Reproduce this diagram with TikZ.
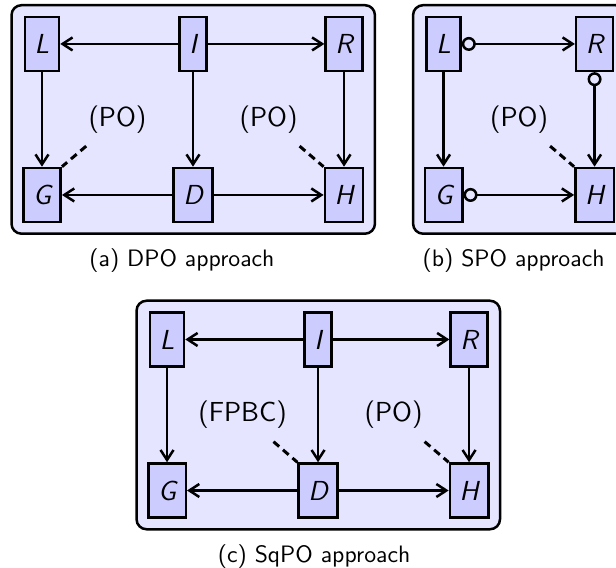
\documentclass[tikz,border=0pt]{standalone}
\usetikzlibrary{arrows.meta,fit,backgrounds}

\tikzset{
  obj/.style={draw, line width=1pt, fill=blue!20, minimum height=21.6pt, inner xsep=3.9pt,
    font=\sffamily\itshape\fontsize{11}{13}\selectfont},
  panel/.style={draw, line width=1pt, fill=blue!10, rounded corners=4pt, inner sep=4.2pt},
  sqlabel/.style={font=\sffamily\fontsize{11}{13}\selectfont},
  caption/.style={font=\sffamily\fontsize{9.5}{11}\selectfont},
  mor/.style={line width=1pt, -{Straight Barb[length=4pt,width=5.2pt]}},
  pmor/.style={line width=1pt, {Circle[open,length=5.6pt]}-{Straight Barb[length=4pt,width=5.2pt]}},
  cell/.style={line width=1.2pt, dash pattern=on 3pt off 2pt, shorten <=2.5pt},
}

\begin{document}
\begin{tikzpicture}[x=2.123cm, y=2.123cm]
\useasboundingbox (-0.278,0.291) rectangle (3.801,-3.464);

% double pushout
\begin{scope}[name prefix=a-]
\node[obj] (L) at (0,0) {L};
\node[obj] (I) at (1,0) {I};
\node[obj] (R) at (2,0) {R};
\node[obj] (G) at (0,-1) {G};
\node[obj] (D) at (1,-1) {D};
\node[obj] (H) at (2,-1) {H};

\node[sqlabel] (po1) at (0.5,-0.5) {(PO)};
\node[sqlabel] (po2) at (1.5,-0.5) {(PO)};

\draw[mor] (I) -- (L);
\draw[mor] (I) -- (R);
\draw[mor] (L) -- (G);
\draw[mor] (I) -- (D);
\draw[mor] (R) -- (H);
\draw[mor] (D) -- (G);
\draw[mor] (D) -- (H);

\draw[cell] (po1) -- (G.north east);
\draw[cell] (po2) -- (H.north west);

\begin{scope}[on background layer]
\node[panel, fit=(L)(R)(G)(H)] (box) {};
\end{scope}
\node[caption] (cap) at (0.927,-1.437) {(a) DPO approach};
\end{scope}

% single pushout
\begin{scope}[shift={(2.659,0)}, name prefix=b-]
\node[obj] (L) at (0,0) {L};
\node[obj] (R) at (1,0) {R};
\node[obj] (G) at (0,-1) {G};
\node[obj] (H) at (1,-1) {H};

\node[sqlabel] (po) at (0.5,-0.5) {(PO)};

\draw[pmor] (L) -- (R);
\draw[mor] (L) -- (G);
\draw[pmor] (R) -- (H);
\draw[pmor] (G) -- (H);

\draw[cell] (po) -- (H.north west);

\begin{scope}[on background layer]
\node[panel, fit=(L)(R)(G)(H)] (box) {};
\end{scope}
\node[caption] (cap) at (0.464,-1.437) {(b) SPO approach};
\end{scope}

% sesqui-pushout
\begin{scope}[shift={(0.828,-1.957)}, name prefix=c-]
\node[obj] (L) at (0,0) {L};
\node[obj] (I) at (1,0) {I};
\node[obj] (R) at (2,0) {R};
\node[obj] (G) at (0,-1) {G};
\node[obj] (D) at (1,-1) {D};
\node[obj] (H) at (2,-1) {H};

\node[sqlabel] (fpbc) at (0.5,-0.5) {(FPBC)};
\node[sqlabel] (po) at (1.5,-0.5) {(PO)};

\draw[mor] (I) -- (L);
\draw[mor] (I) -- (R);
\draw[mor] (L) -- (G);
\draw[mor] (I) -- (D);
\draw[mor] (R) -- (H);
\draw[mor] (D) -- (G);
\draw[mor] (D) -- (H);

\draw[cell] (fpbc) -- (D.north west);
\draw[cell] (po) -- (H.north west);

\begin{scope}[on background layer]
\node[panel, fit=(L)(R)(G)(H)] (box) {};
\end{scope}
\node[caption] (cap) at (0.974,-1.437) {(c) SqPO approach};
\end{scope}

\end{tikzpicture}
\end{document}
